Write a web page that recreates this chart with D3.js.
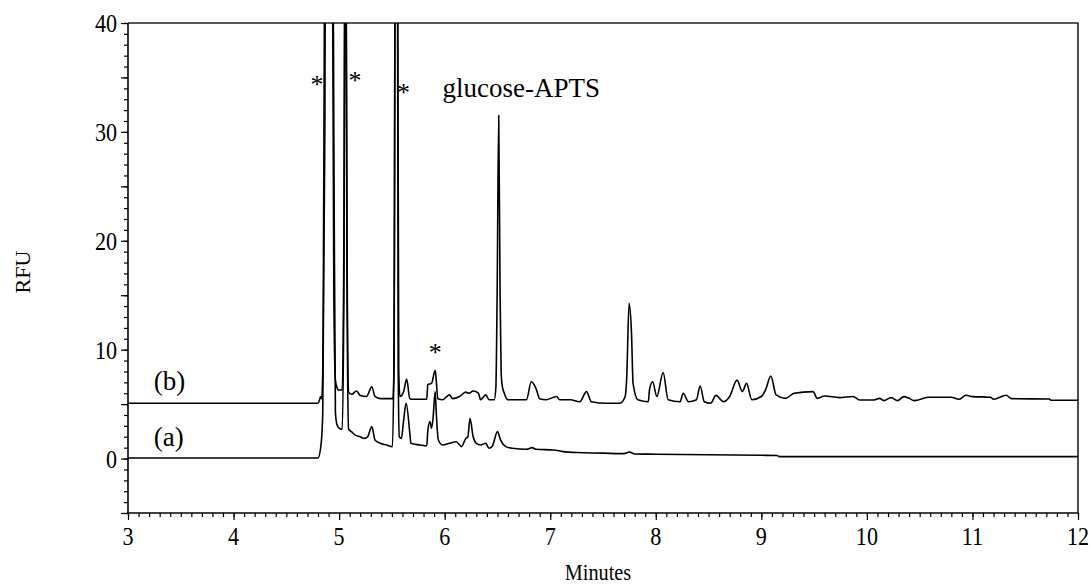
<!DOCTYPE html>
<html><head><meta charset="utf-8">
<script src="https://cdn.jsdelivr.net/npm/d3@7"></script>
<style>
body{margin:0;background:#fff}
svg{display:block}
text{font-family:"Liberation Serif","Times New Roman",serif;fill:#000}
</style>
</head><body>
<svg id="c" width="1091" height="584"></svg>
<script>
// ---------- data ----------
const xMajorTicks = [3,4,5,6,7,8,9,10,11,12];
const yMajorTicks = [0,10,20,30,40];
const xTickLabels = ["3","4","5","6","7","8","9","10","11","12"];
const yTickLabels = ["0","10","20","30","40"];

// trace (a): [minutes, RFU]
const traceA = [[3.0,0.05],[4.80,0.05],[4.83,1.4],[4.845,4.2],[4.865,30],[4.875,60],[4.935,60],[4.95,30],[4.965,4.2],[4.98,3.1],[5.0,2.8],[5.03,2.7],[5.045,15],[5.06,60],[5.075,15],[5.09,2.7],[5.117,2.47],[5.15,2.17],[5.2,2.0],[5.24,1.85],[5.27,2.0],[5.31,2.93],[5.34,1.7],[5.39,1.4],[5.45,1.25],[5.505,1.1],[5.52,10],[5.535,60],[5.55,60],[5.56,8],[5.57,2.0],[5.59,1.85],[5.61,3.4],[5.635,5.08],[5.67,2.32],[5.68,1.4],[5.765,1.25],[5.83,1.16],[5.84,2.47],[5.86,3.4],[5.875,2.78],[5.89,3.7],[5.91,6.15],[5.92,4.3],[5.94,1.7],[5.98,1.25],[6.045,1.4],[6.11,1.55],[6.16,1.1],[6.2,1.85],[6.22,2.0],[6.24,3.7],[6.27,2.0],[6.3,1.4],[6.34,1.25],[6.39,1.4],[6.42,0.94],[6.45,1.1],[6.5,2.47],[6.53,1.7],[6.58,1.1],[6.64,0.94],[6.775,0.85],[6.83,1.0],[6.865,0.85],[7.03,0.79],[7.12,0.64],[7.25,0.55],[7.5,0.5],[7.7,0.45],[7.75,0.6],[7.8,0.42],[8.0,0.4],[8.5,0.35],[9.0,0.3],[9.15,0.28],[9.17,0.18],[12.0,0.18]];

// trace (b): [minutes, RFU]
const traceB = [[3.0,5.08],[4.80,5.08],[4.815,5.4],[4.825,5.7],[4.835,5.5],[4.845,8.0],[4.872,60],[4.93,60],[4.95,15],[4.965,7.2],[4.978,6.6],[4.99,6.3],[5.03,6.3],[5.045,20],[5.06,60],[5.075,20],[5.09,6.1],[5.12,5.9],[5.165,6.2],[5.2,5.8],[5.26,5.7],[5.31,6.6],[5.34,5.7],[5.39,5.5],[5.51,5.5],[5.52,8],[5.535,60],[5.55,60],[5.565,8],[5.576,5.7],[5.61,6.1],[5.64,7.3],[5.67,5.5],[5.7,5.45],[5.83,5.45],[5.84,6.8],[5.875,6.9],[5.91,8.1],[5.92,7.2],[5.935,5.5],[5.98,5.4],[6.045,5.85],[6.075,5.5],[6.14,5.7],[6.2,6.1],[6.23,6.0],[6.27,6.2],[6.32,6.0],[6.34,5.4],[6.39,5.85],[6.42,5.4],[6.47,5.4],[6.485,6.5],[6.497,15],[6.512,31.5],[6.525,15],[6.535,8],[6.545,6.7],[6.565,6.0],[6.6,5.4],[6.775,5.4],[6.82,7.05],[6.865,6.45],[6.9,5.5],[6.96,5.4],[7.06,5.7],[7.09,5.4],[7.19,5.4],[7.28,5.22],[7.344,6.15],[7.39,5.22],[7.53,5.08],[7.66,5.08],[7.71,5.7],[7.725,7.5],[7.747,14.26],[7.77,11.5],[7.785,6.9],[7.83,5.4],[7.93,5.22],[7.94,6.3],[7.97,7.05],[8.01,5.7],[8.07,7.9],[8.117,5.4],[8.23,5.22],[8.26,6.0],[8.31,5.22],[8.385,5.4],[8.42,6.67],[8.46,5.22],[8.52,5.08],[8.57,5.8],[8.64,5.22],[8.70,5.7],[8.77,7.2],[8.82,6.15],[8.86,6.9],[8.91,5.4],[9.0,5.7],[9.04,6.3],[9.09,7.58],[9.14,5.85],[9.23,5.53],[9.31,6.0],[9.49,6.15],[9.53,5.53],[9.6,5.75],[9.74,5.6],[9.87,5.7],[9.93,5.38],[10.06,5.38],[10.12,5.53],[10.16,5.32],[10.23,5.6],[10.29,5.32],[10.35,5.69],[10.4,5.53],[10.45,5.32],[10.58,5.63],[10.8,5.63],[10.87,5.44],[10.94,5.81],[11.0,5.69],[11.17,5.63],[11.2,5.44],[11.32,5.81],[11.37,5.5],[11.73,5.47],[11.74,5.35],[12.0,5.35]];

// annotations [minutes, RFU, text]
const starMarks = [[4.79,34.86],[5.15,35.2],[5.61,34.1],[5.91,10.24]];
const textLabels = [[5.98,33.2,"glucose-APTS"],[3.245,6.3,"(b)"],[3.245,1.16,"(a)"]];

// ---------- chart ----------
const L=128,R=1078,T=23,B=513;
const svg=d3.select("#c");
const x=d3.scaleLinear().domain([3,12]).range([L,R]);
const y=d3.scaleLinear().domain([-5,40]).range([B,T]);

svg.append("defs").append("clipPath").attr("id","clip")
  .append("rect").attr("x",L).attr("y",T).attr("width",R-L).attr("height",B-T);

// frame top & right
svg.append("path").attr("d",`M${L},${T}H${R}V${B}`).attr("fill","none")
  .attr("stroke","#222").attr("stroke-width",1.6);

// traces
const line=d3.line().x(d=>x(d[0])).y(d=>y(d[1])).curve(d3.curveMonotoneX);
const g=svg.append("g").attr("clip-path","url(#clip)");
[traceA,traceB].forEach(tr=>{
  g.append("path").datum(tr).attr("d",line).attr("fill","none")
   .attr("stroke","#000").attr("stroke-width",1.6).attr("stroke-linejoin","round");
});

// axes
function styleAxis(sel){sel.select(".domain").remove();sel.selectAll("line").attr("stroke","#000").attr("stroke-width",1.2);sel.selectAll("text").remove();}
svg.append("g").attr("transform",`translate(${L},0)`)
  .call(d3.axisLeft(y).tickValues(d3.range(-5,41,1)).tickSize(4)).call(styleAxis);
svg.append("g").attr("transform",`translate(${L},0)`)
  .call(d3.axisLeft(y).tickValues(d3.range(-5,41,10).concat(yMajorTicks)).tickSize(7)).call(styleAxis);
svg.append("g").attr("transform",`translate(0,${B})`)
  .call(d3.axisBottom(x).tickValues(d3.range(30,121,1).map(v=>v/10)).tickSize(4)).call(styleAxis);
svg.append("g").attr("transform",`translate(0,${B})`)
  .call(d3.axisBottom(x).tickValues(xMajorTicks).tickSize(7)).call(styleAxis);
svg.append("line").attr("x1",L).attr("x2",L).attr("y1",T).attr("y2",B+1).attr("stroke","#000").attr("stroke-width",1.6);
svg.append("line").attr("x1",L-1).attr("x2",R).attr("y1",B).attr("y2",B).attr("stroke","#000").attr("stroke-width",1.6);

const sx=0.85;
// y tick labels
yMajorTicks.forEach((v,i)=>{
  const px=L-11, py=y(v)+9;
  svg.append("text").attr("x",px).attr("y",py).attr("text-anchor","end")
    .attr("font-size",26).attr("transform",`translate(${px},0) scale(${sx},1) translate(${-px},0)`)
    .text(yTickLabels[i]);
});
// x tick labels
xMajorTicks.forEach((v,i)=>{
  const px=x(v), py=545;
  svg.append("text").attr("x",px).attr("y",py).attr("text-anchor","middle")
    .attr("font-size",26).attr("transform",`translate(${px},0) scale(${sx},1) translate(${-px},0)`)
    .text(xTickLabels[i]);
});
// axis titles
{
  const px=598;
  svg.append("text").attr("x",px).attr("y",580).attr("text-anchor","middle").attr("font-size",23)
    .attr("transform",`translate(${px},0) scale(0.88,1) translate(${-px},0)`).text("Minutes");
}
svg.append("text").attr("transform","translate(30,272) rotate(-90)").attr("text-anchor","middle")
  .attr("font-size",22).text("RFU");

// annotations
starMarks.forEach(d=>{
  svg.append("text").attr("x",x(d[0])).attr("y",y(d[1])+14).attr("text-anchor","middle")
    .attr("font-size",26).attr("fill","#1a1a2e").text("*");
});
textLabels.forEach(d=>{
  svg.append("text").attr("x",x(d[0])).attr("y",y(d[1])).attr("font-size",27).text(d[2]);
});
</script>
</body></html>
